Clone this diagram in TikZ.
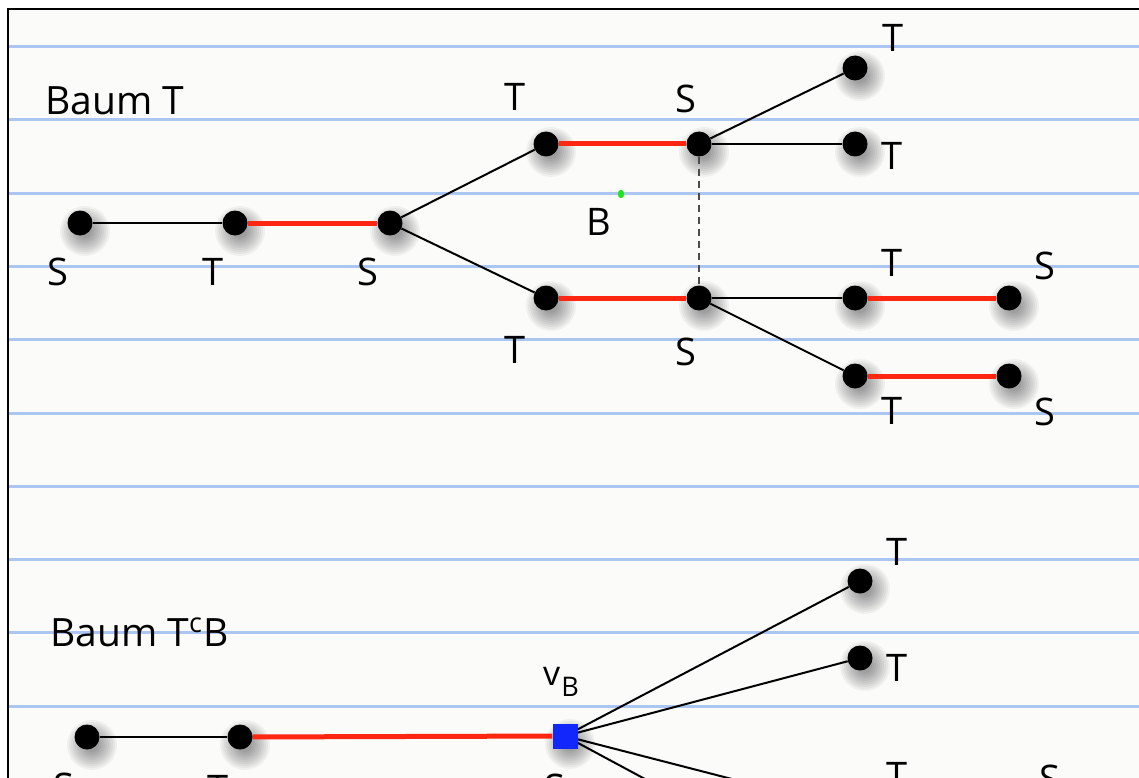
\documentclass[tikz,border=0pt]{standalone}
\usepackage{fontspec}
\setmainfont{Open Sans}
\pgfdeclarelayer{bg}
\pgfdeclarelayer{shad}
\pgfdeclarelayer{edges}
\pgfsetlayers{bg,shad,edges,main}
\definecolor{paper}{RGB}{251,252,250}
\definecolor{rulecol}{RGB}{172,198,242}
\definecolor{redge}{RGB}{255,38,18}
\definecolor{vblue}{RGB}{18,40,250}
\definecolor{gdot}{RGB}{30,230,30}
\tikzset{
  dot/.style={circle, fill=black, inner sep=0pt, minimum size=25pt},
  vsq/.style={rectangle, fill=vblue, inner sep=0pt, minimum size=25pt},
  lab/.style={font=\fontsize{38}{40}\selectfont, inner sep=0pt},
  title/.style={font=\fontsize{39}{42}\selectfont, inner sep=0pt, anchor=west},
  plain/.style={black, line width=2pt},
  hot/.style={redge, line width=5pt},
  dashline/.style={black!70, line width=2pt, dash pattern=on 7pt off 5pt},
  rule/.style={rulecol, line width=3pt}
}
\newcommand{\shadowof}[1]{%
  \foreach \r in {25,23,...,7}{\fill[black,opacity=0.045] ([shift={(5,8)}]#1) circle[radius=\r pt];}}
\begin{document}
\begin{tikzpicture}[x=1pt,y=-1pt]
\useasboundingbox (0,0) rectangle (1139,778);
\clip (0,0) rectangle (1139,778);
\begin{pgfonlayer}{bg}
  \fill[white] (0,0) rectangle (1139,778);
  \fill[paper] (8,9) rectangle (1139,778);
  \foreach \k in {0,...,9} \draw[rule] (9,46.5+73.3*\k) -- (1139,46.5+73.3*\k);
  \draw[line width=2pt] (8,790) -- (8,9) -- (1145,9);
\end{pgfonlayer}

% ---- Baum T ----
\node[title] (t1) at (45,101) {Baum T};
\node[dot] (a1) at (80,223) {};
\node[dot] (a2) at (235,223) {};
\node[dot] (a3) at (390,223) {};
\node[dot] (a4) at (546,144) {};
\node[dot] (a5) at (699,144) {};
\node[dot] (a6) at (546,298) {};
\node[dot] (a7) at (699,298) {};
\node[dot] (a8) at (855,68) {};
\node[dot] (a9) at (855,144) {};
\node[dot] (a10) at (855,298) {};
\node[dot] (a11) at (1009,298) {};
\node[dot] (a12) at (855,376) {};
\node[dot] (a13) at (1009,376) {};

\node[lab] (l1) at (58,272) {S};
\node[lab] (l2) at (213,272) {T};
\node[lab] (l3) at (368,272) {S};
\node[lab] (l4) at (515,97) {T};
\node[lab] (l5) at (686,99) {S};
\node[lab] (l6) at (515,350) {T};
\node[lab] (l7) at (686,352) {S};
\node[lab] (l8) at (893,38) {T};
\node[lab] (l9) at (892,156) {T};
\node[lab] (l10) at (892,263) {T};
\node[lab] (l11) at (1045,266) {S};
\node[lab] (l12) at (892,411) {T};
\node[lab] (l13) at (1045,412) {S};
\node[lab] (lB) at (599,222) {B};
\fill[gdot] (621,194) ellipse[x radius=3.2pt, y radius=4.2pt];

% ---- Baum T^c B ----
\node[title] (t2) at (50,632) {Baum T\raisebox{14pt}{\fontsize{27}{27}\selectfont c}\kern2pt B};
\node[dot] (b1) at (87,737) {};
\node[dot] (b2) at (240,737) {};
\node[vsq] (vb) at (565,736) {};
\node[dot] (b3) at (860,581) {};
\node[dot] (b4) at (860,658) {};
\node[dot] (b5) at (860,812) {};
\coordinate (b6) at (790,857);
\node[inner sep=0pt] (lv) at (561,682) {\fontsize{34}{34}\selectfont v\kern1pt\raisebox{-11pt}{\fontsize{27}{27}\selectfont B}};
\node[lab] (m1) at (64,787) {S};
\node[lab] (m2) at (218,789) {T};
\node[lab] (m3) at (555,788) {S};
\node[lab] (m4) at (897,552) {T};
\node[lab] (m5) at (897,668) {T};
\node[lab] (m6) at (897,776) {T};
\node[lab] (m7) at (1050,779) {S};

\begin{pgfonlayer}{shad}
  \foreach \n in {a1,a2,a3,a4,a5,a6,a7,a8,a9,a10,a11,a12,a13,b1,b2,vb,b3,b4,b5} {\shadowof{\n}}
\end{pgfonlayer}

\begin{pgfonlayer}{edges}
  \draw[plain] (a1) -- (a2);
  \draw[hot] (a2) -- (a3);
  \draw[plain] (a3) -- (a4);
  \draw[plain] (a3) -- (a6);
  \draw[hot] (a4) -- (a5);
  \draw[hot] (a6) -- (a7);
  \draw[plain] (a5) -- (a8);
  \draw[plain] (a5) -- (a9);
  \draw[plain] (a7) -- (a10);
  \draw[plain] (a7) -- (a12);
  \draw[hot] (a10) -- (a11);
  \draw[hot] (a12) -- (a13);
  \draw[dashline] (a5) -- (a7);
  \draw[plain] (b1) -- (b2);
  \draw[hot] (b2) -- (vb);
  \draw[plain] (vb) -- (b3);
  \draw[plain] (vb) -- (b4);
  \draw[plain] (vb) -- (b5);
  \draw[plain] (vb) -- (b6);
\end{pgfonlayer}
\end{tikzpicture}
\end{document}
